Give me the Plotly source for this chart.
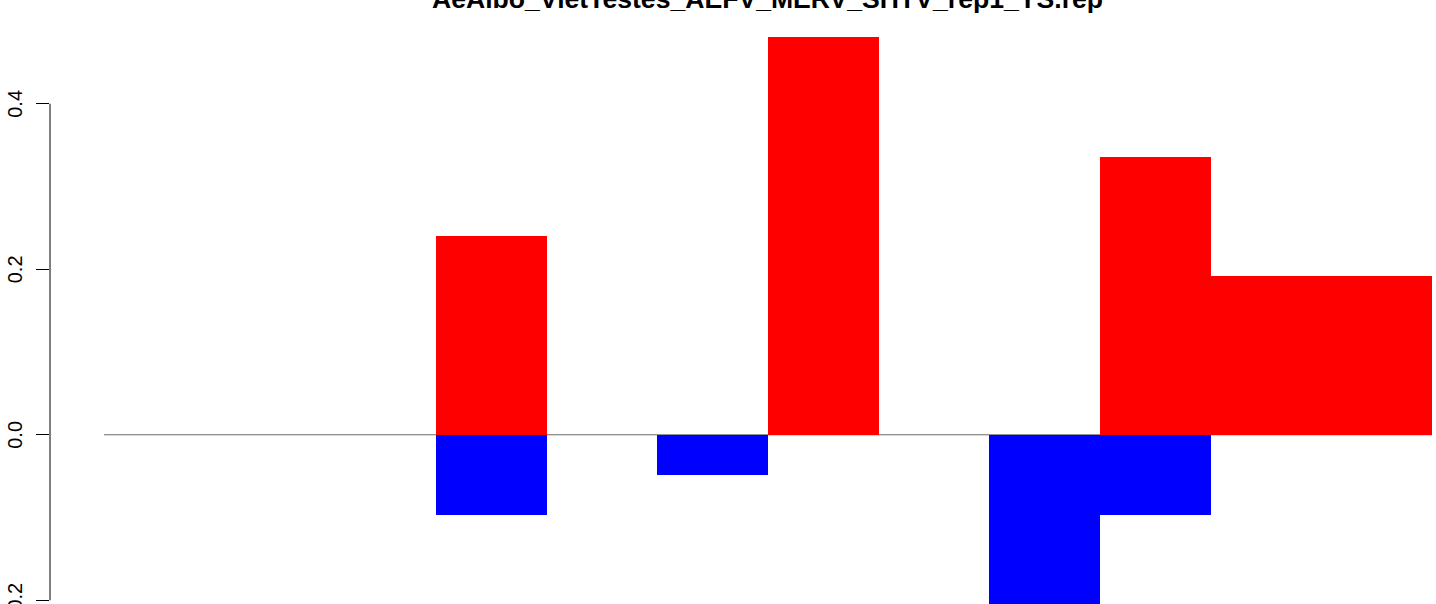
import plotly.graph_objects as go

title = "AeAlbo_VietTestes_AEFV_MERV_SHTV_rep1_YS.rep"
positions = list(range(12))
up_values = [0, 0, 0, 0.2402, 0, 0, 0.4807, 0, 0, 0.3361, 0.1919, 0.1919]
down_values = [0, 0, 0, -0.0966, 0, -0.0482, 0, 0, -0.23, -0.0966, 0, 0]
y_ticks = [-0.2, 0.0, 0.2, 0.4]
y_ticktext = ["-0.2", "0.0", "0.2", "0.4"]

W, H = 1436, 604
font = "Liberation Sans, Arial, Helvetica, sans-serif"

fig = go.Figure()
fig.add_trace(go.Bar(x=positions, y=up_values, width=1, marker=dict(color="#FF0000", line=dict(width=0)),
                     hoverinfo="skip"))
fig.add_trace(go.Bar(x=positions, y=down_values, width=1, marker=dict(color="#0000FF", line=dict(width=0)),
                     hoverinfo="skip"))

# zero reference line across all bars
fig.add_shape(type="line", xref="x", yref="y", x0=positions[0] - 0.5, x1=positions[-1] + 0.5,
              y0=0, y1=0, line=dict(color="#6b6b6b", width=1), layer="below")
# y axis line spanning the tick range
fig.add_shape(type="line", xref="paper", yref="y", x0=0, x1=0, y0=min(y_ticks), y1=max(y_ticks),
              line=dict(color="black", width=1))

px_per_unit = 1328 / len(positions)
left_margin = 50
x_lo = -0.5 - (104 - left_margin) / px_per_unit
x_hi = positions[-1] + 0.5 + (W - 1432) / px_per_unit

fig.add_annotation(text="<b>" + title + "</b>", xref="paper", yref="paper",
                   x=(767.5 - left_margin) / (W - left_margin), y=1, xanchor="center", yanchor="middle",
                   yshift=1, showarrow=False, font=dict(size=26.6, family=font, color="black"))

# rotated tick labels (R style), drawn as text so the partly cut one still shows
for v, t in zip(y_ticks, y_ticktext):
    fig.add_annotation(text=t, xref="paper", yref="y", x=0, y=v, xshift=-35,
                       xanchor="center", yanchor="middle", textangle=-90, showarrow=False,
                       font=dict(size=20, family=font, color="black"))

fig.update_layout(
    width=W, height=H,
    margin=dict(l=left_margin, r=0, t=0, b=0, autoexpand=False),
    paper_bgcolor="white", plot_bgcolor="white",
    barmode="overlay", bargap=0,
    showlegend=False,
    font=dict(family=font, color="black"),
    xaxis=dict(visible=False, range=[x_lo, x_hi]),
    yaxis=dict(range=[-0.2045, 0.5254], tickvals=y_ticks, ticktext=y_ticktext,
               ticks="outside", ticklen=13, tickwidth=1, tickcolor="black",
               showgrid=False, zeroline=False, showline=False, automargin=False,
               showticklabels=False),
)

fig.write_html("out.html", config={"displayModeBar": False},
               post_script="document.body.style.margin='0';document.body.style.overflow='hidden';")
